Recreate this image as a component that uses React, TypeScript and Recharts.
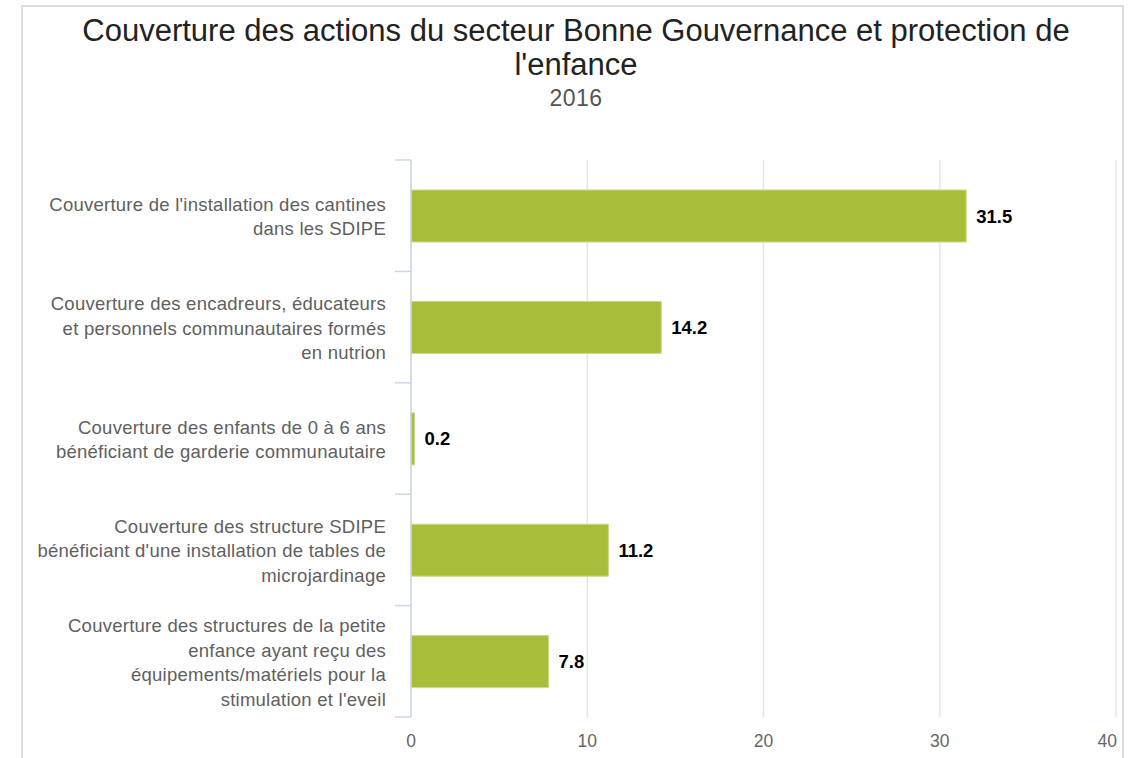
import { BarChart, Bar, XAxis, YAxis, CartesianGrid, LabelList } from "recharts";

const categoryLines: string[][] = [
  ["Couverture de l'installation des cantines", "dans les SDIPE"],
  ["Couverture des encadreurs, éducateurs", "et personnels communautaires formés", "en nutrion"],
  ["Couverture des enfants de 0 à 6 ans", "bénéficiant de garderie communautaire"],
  ["Couverture des structure SDIPE", "bénéficiant d'une installation de tables de", "microjardinage"],
  ["Couverture des structures de la petite", "enfance ayant reçu des", "équipements/matériels pour la", "stimulation et l'eveil"],
];
const values = [31.5, 14.2, 0.2, 11.2, 7.8];
const xTicks = [0, 10, 20, 30, 40];

const titleLines = ["Couverture des actions du secteur Bonne Gouvernance et protection de", "l'enfance"];
const subtitle = "2016";

const data = categoryLines.map((lines, i) => ({ name: lines.join(" "), value: values[i] }));

const W = 1132;
const H = 758;
const PLOT_TOP = 160;
const PLOT_BOTTOM = 717;
const AXIS_X = 411;
const BAND = (PLOT_BOTTOM - PLOT_TOP) / categoryLines.length;
const FONT = "'Liberation Sans', Arial, sans-serif";

function CategoryTick(props: any) {
  const { y, index } = props;
  const lines = categoryLines[index] || [];
  const lh = 24.5;
  const startY = y - ((lines.length - 1) * lh) / 2 + 1;
  return (
    <g>
      <line x1={AXIS_X - 16} x2={AXIS_X} y1={y - BAND / 2} y2={y - BAND / 2} stroke="#ccd6eb" strokeWidth={1.5} />
      {index === categoryLines.length - 1 && (
        <line x1={AXIS_X - 16} x2={AXIS_X} y1={y + BAND / 2} y2={y + BAND / 2} stroke="#ccd6eb" strokeWidth={1.5} />
      )}
      <text textAnchor="end" fontSize={18.5} letterSpacing={0.25} fill="#606060" fontFamily={FONT}>
        {lines.map((l, i) => (
          <tspan key={i} x={AXIS_X - 25} y={startY + i * lh} dy="0.35em">
            {l}
          </tspan>
        ))}
      </text>
    </g>
  );
}

function ValueTick(props: any) {
  const { x, y, payload, index } = props;
  const last = index === xTicks.length - 1;
  return (
    <text
      x={last ? x + 1 : x}
      y={y}
      dy="0.71em"
      textAnchor={last ? "end" : "middle"}
      fontSize={17.5}
      fill="#666"
      fontFamily={FONT}
    >
      {payload.value}
    </text>
  );
}

export default function App() {
  return (
    <div style={{ position: "absolute", left: 0, top: 0, width: W, height: H, background: "#fff", overflow: "hidden", fontFamily: FONT }}>
      <div
        style={{
          position: "absolute",
          left: 21,
          top: 5,
          width: 1103,
          height: 800,
          border: "2px solid #dcdcdc",
          boxSizing: "border-box",
        }}
      />
      <div style={{ position: "absolute", left: 0, top: 14, width: 1152, textAlign: "center", fontSize: 31, lineHeight: "34px", color: "#222" }}>
        {titleLines.map((t, i) => (
          <div key={i}>{t}</div>
        ))}
      </div>
      <div style={{ position: "absolute", left: 0, top: 85, width: 1152, textAlign: "center", fontSize: 23, letterSpacing: 0.5, color: "#555" }}>
        {subtitle}
      </div>
      <div style={{ position: "absolute", left: 0, top: 0 }}>
        <BarChart
          width={W}
          height={H}
          data={data}
          layout="vertical"
          margin={{ top: PLOT_TOP, right: W - 1116, bottom: H - PLOT_BOTTOM - 30, left: 0 }}
          barCategoryGap={0}
        >
          <CartesianGrid horizontal={false} stroke="#e6e6e6" strokeWidth={1.5} />
          <XAxis
            type="number"
            domain={[0, 40]}
            ticks={xTicks}
            height={30}
            axisLine={false}
            tickLine={false}
            tickSize={0}
            tickMargin={18}
            tick={<ValueTick />}
          />
          <YAxis
            type="category"
            dataKey="name"
            width={AXIS_X}
            axisLine={{ stroke: "#ccd6eb", strokeWidth: 1.5 }}
            tickLine={false}
            tick={<CategoryTick />}
            interval={0}
          />
          <Bar dataKey="value" fill="#a8be3a" stroke="#c9d98a" strokeWidth={1} barSize={52} isAnimationActive={false}>
            <LabelList
              dataKey="value"
              position="right"
              offset={10}
              style={{ fontSize: 18.5, fontWeight: "bold", fill: "#000", fontFamily: FONT, stroke: "#fff", strokeWidth: 2, paintOrder: "stroke" }}
              formatter={(v: any) => Number(v).toFixed(1)}
            />
          </Bar>
        </BarChart>
      </div>
    </div>
  );
}
